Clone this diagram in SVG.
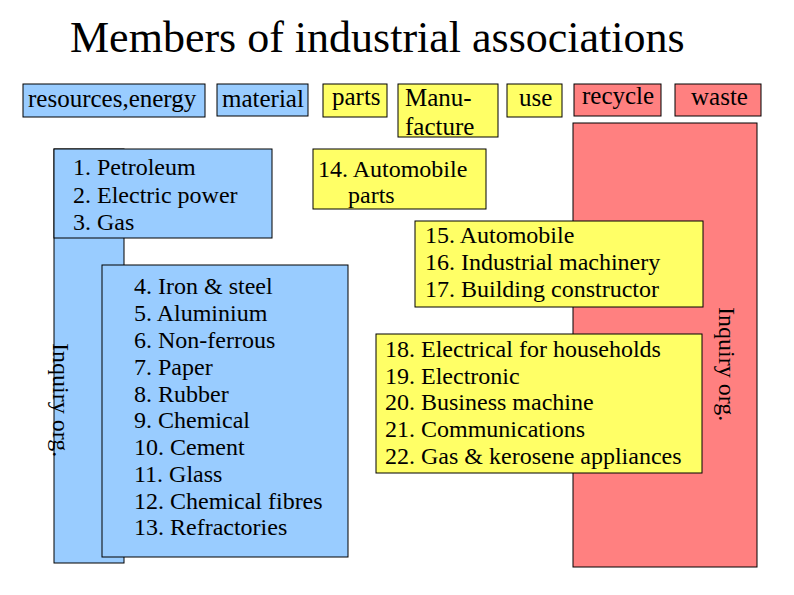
<svg xmlns="http://www.w3.org/2000/svg" width="794" height="595" viewBox="0 0 794 595">
<style>
.bl{fill:#99CCFF;stroke:#000;stroke-width:1}
.yl{fill:#FFFF66;stroke:#000;stroke-width:1}
.rd{fill:#FF8080;stroke:#000;stroke-width:1}
</style>
<rect width="794" height="595" fill="#fff"/>
<text font-family="Liberation Serif" font-size="44" x="70" y="52">Members of industrial associations</text>
<g id="hdr-resources"><rect class="bl" x="23" y="84" width="182" height="33"/><text font-family="Liberation Serif" font-size="25" x="28" y="107">resources,energy</text></g>
<g id="hdr-material"><rect class="bl" x="217" y="84" width="91" height="32"/><text font-family="Liberation Serif" font-size="25" x="222" y="107">material</text></g>
<g id="hdr-parts"><rect class="yl" x="323" y="84" width="64" height="33"/><text font-family="Liberation Serif" font-size="25" x="332" y="105">parts</text></g>
<g id="hdr-manufacture"><rect class="yl" x="398" y="84" width="100" height="53"/><text font-family="Liberation Serif" font-size="25" x="405" y="106">Manu-</text><text font-family="Liberation Serif" font-size="25" x="405" y="135">facture</text></g>
<g id="hdr-use"><rect class="yl" x="507" y="84" width="55" height="33"/><text font-family="Liberation Serif" font-size="25" x="519" y="106">use</text></g>
<g id="hdr-recycle"><rect class="rd" x="574" y="84" width="87" height="32"/><text font-family="Liberation Serif" font-size="25" x="582" y="104">recycle</text></g>
<g id="hdr-waste"><rect class="rd" x="675" y="84" width="86" height="32"/><text font-family="Liberation Serif" font-size="25" x="691" y="105">waste</text></g>
<g id="inquiry-right"><rect class="rd" x="573" y="123" width="184" height="444"/><text font-family="Liberation Serif" font-size="24" transform="translate(719,307) rotate(90)">Inquiry org.</text></g>
<g id="inquiry-left"><rect class="bl" x="54" y="149" width="70" height="414"/><text font-family="Liberation Serif" font-size="24" transform="translate(53,343) rotate(90)">Inquiry org.</text></g>
<g id="energy"><rect class="bl" x="54" y="149" width="218" height="89"/>
<text font-family="Liberation Serif" font-size="24" x="73" y="175">1. Petroleum</text>
<text font-family="Liberation Serif" font-size="24" x="73" y="203">2. Electric power</text>
<text font-family="Liberation Serif" font-size="24" x="73" y="230">3. Gas</text></g>
<g id="materials"><rect class="bl" x="102" y="265" width="246" height="292"/>
<text font-family="Liberation Serif" font-size="24" x="134" y="294">4. Iron &amp; steel</text>
<text font-family="Liberation Serif" font-size="24" x="134" y="321">5. Aluminium</text>
<text font-family="Liberation Serif" font-size="24" x="134" y="348">6. Non-ferrous</text>
<text font-family="Liberation Serif" font-size="24" x="134" y="375">7. Paper</text>
<text font-family="Liberation Serif" font-size="24" x="134" y="402">8. Rubber</text>
<text font-family="Liberation Serif" font-size="24" x="134" y="428">9. Chemical</text>
<text font-family="Liberation Serif" font-size="24" x="134" y="455">10. Cement</text>
<text font-family="Liberation Serif" font-size="24" x="134" y="482">11. Glass</text>
<text font-family="Liberation Serif" font-size="24" x="134" y="509">12. Chemical fibres</text>
<text font-family="Liberation Serif" font-size="24" x="134" y="535">13. Refractories</text></g>
<g id="parts"><rect class="yl" x="313" y="149" width="173" height="60"/>
<text font-family="Liberation Serif" font-size="24" x="318" y="177">14. Automobile</text>
<text font-family="Liberation Serif" font-size="24" x="348" y="203">parts</text></g>
<g id="manufacture"><rect class="yl" x="415" y="221" width="288" height="86"/>
<text font-family="Liberation Serif" font-size="24" x="425" y="243">15. Automobile</text>
<text font-family="Liberation Serif" font-size="24" x="425" y="270">16. Industrial machinery</text>
<text font-family="Liberation Serif" font-size="24" x="425" y="297">17. Building constructor</text></g>
<g id="use"><rect class="yl" x="376" y="334" width="326" height="139"/>
<text font-family="Liberation Serif" font-size="24" x="385" y="357">18. Electrical for households</text>
<text font-family="Liberation Serif" font-size="24" x="385" y="384">19. Electronic</text>
<text font-family="Liberation Serif" font-size="24" x="385" y="410">20. Business machine</text>
<text font-family="Liberation Serif" font-size="24" x="385" y="437">21. Communications</text>
<text font-family="Liberation Serif" font-size="24" x="385" y="464">22. Gas &amp; kerosene appliances</text></g>
<g id="connectors"></g>
</svg>
